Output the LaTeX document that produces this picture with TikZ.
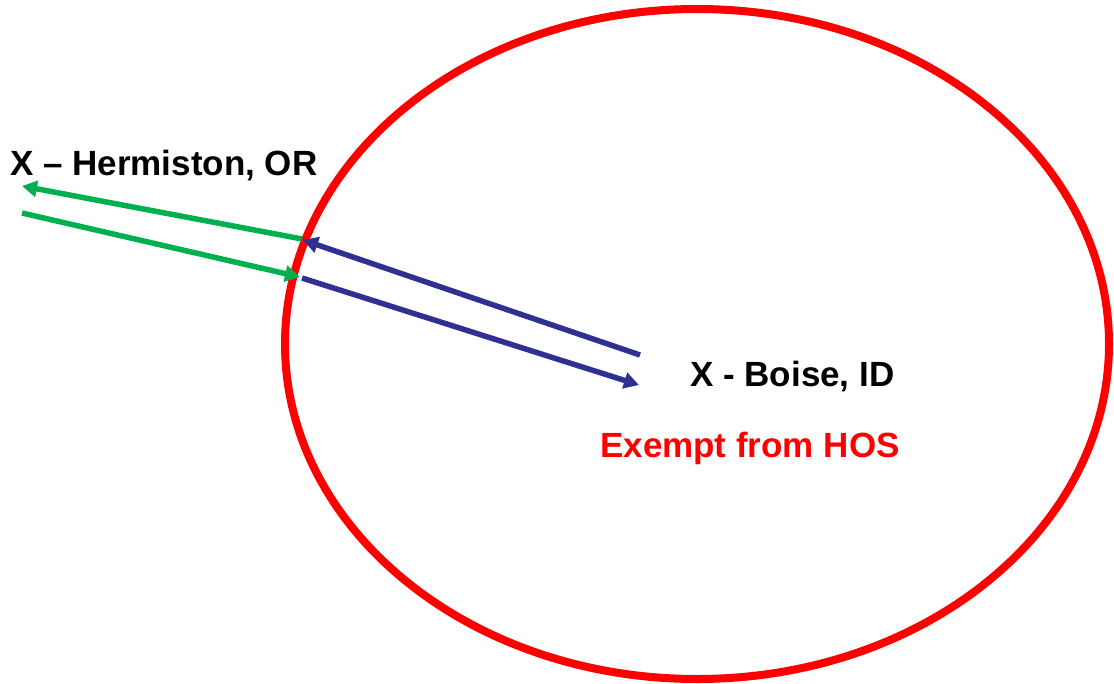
\documentclass[tikz,border=0pt]{standalone}
\usepackage{fontspec}
\setmainfont{Liberation Sans}
\usetikzlibrary{arrows.meta}
\definecolor{gr}{RGB}{0,176,80}
\definecolor{bl}{RGB}{46,49,146}
\definecolor{rd}{RGB}{255,0,0}
\tikzset{
  lbl/.style={anchor=base west,inner sep=0pt,font=\bfseries\fontsize{35}{40}\selectfont},
  garrow/.style={draw=gr,line width=5.5pt,-{Triangle[length=15pt,width=16pt]}},
  barrow/.style={draw=bl,line width=5.5pt,-{Triangle[length=15pt,width=16pt]}}
}
\begin{document}
\begin{tikzpicture}[x=1pt,y=-1pt]
\useasboundingbox (0,0) rectangle (1114,683);
\draw[rd,line width=8pt] (697,344) ellipse [x radius=412, y radius=335];
\coordinate (g1s) at (302,239);
\coordinate (g1e) at (22,186);
\coordinate (g2s) at (22,213);
\coordinate (g2e) at (300,277);
\coordinate (b1s) at (640,355);
\coordinate (b1e) at (303,240);
\coordinate (b2s) at (302,278);
\coordinate (b2e) at (639,385);
\draw[garrow] (g1s) -- (g1e);
\draw[garrow] (g2s) -- (g2e);
\draw[barrow] (b1s) -- (b1e);
\draw[barrow] (b2s) -- (b2e);
\node[lbl] (herm) at (10,175) {X – Hermiston, OR};
\node[lbl] (boise) at (690,386) {X - Boise, ID};
\node[lbl,text=rd] (exempt) at (600,457) {Exempt from HOS};
\end{tikzpicture}
\end{document}
